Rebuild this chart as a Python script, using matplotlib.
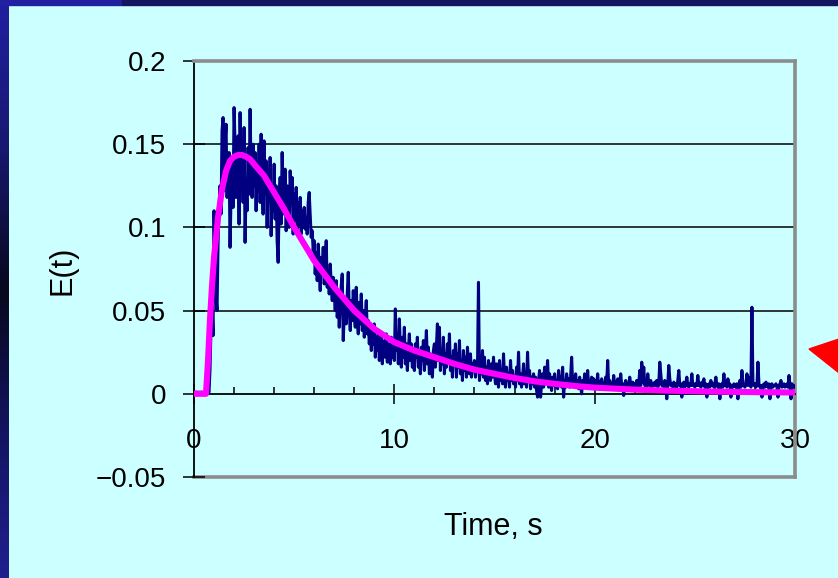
import numpy as np
import matplotlib
matplotlib.use("Agg")
import matplotlib.pyplot as plt
from matplotlib.patches import Rectangle, Polygon
from matplotlib.colors import LinearSegmentedColormap
from matplotlib.ticker import MultipleLocator

plt.rcParams["font.family"] = ["Liberation Sans", "DejaVu Sans"]

# Measured residence-time distribution E(t), sampled every 0.05 s from 0 to 30 s
sample_step = 0.05
e_measured = [
    # 0 - 1 s
    0.001, 0.000, 0.001, 0.001, 0.000, 0.001, 0.000, 0.001, 0.001, 0.000,
    0.001, 0.000, 0.001, 0.001, 0.002, 0.001, 0.015, 0.040, 0.055, 0.035,
    # 1 - 2 s
    0.110, 0.072, 0.058, 0.050, 0.090, 0.112, 0.125, 0.108, 0.158, 0.166,
    0.122, 0.150, 0.162, 0.118, 0.132, 0.145, 0.088, 0.120, 0.140, 0.112,
    # 2 - 3 s
    0.172, 0.150, 0.118, 0.140, 0.155, 0.102, 0.169, 0.130, 0.145, 0.115,
    0.160, 0.091, 0.125, 0.110, 0.148, 0.120, 0.171, 0.132, 0.118, 0.150,
    # 3 - 4 s
    0.125, 0.145, 0.110, 0.138, 0.122, 0.150, 0.115, 0.156, 0.128, 0.108,
    0.152, 0.120, 0.140, 0.100, 0.132, 0.118, 0.142, 0.095, 0.125, 0.110,
    # 4 - 5 s
    0.138, 0.105, 0.125, 0.092, 0.079, 0.115, 0.130, 0.102, 0.145, 0.120,
    0.108, 0.135, 0.098, 0.125, 0.112, 0.100, 0.134, 0.118, 0.130, 0.096,
    # 5 - 6 s
    0.120, 0.104, 0.124, 0.098, 0.115, 0.102, 0.118, 0.096, 0.110, 0.100,
    0.112, 0.099, 0.106, 0.096, 0.115, 0.121, 0.108, 0.094, 0.098, 0.086,
    # 6 - 7 s
    0.092, 0.072, 0.085, 0.068, 0.090, 0.076, 0.062, 0.082, 0.072, 0.088,
    0.066, 0.080, 0.092, 0.064, 0.074, 0.060, 0.078, 0.066, 0.056, 0.070,
    # 7 - 8 s
    0.062, 0.050, 0.068, 0.046, 0.058, 0.040, 0.055, 0.065, 0.072, 0.032,
    0.048, 0.058, 0.042, 0.060, 0.073, 0.050, 0.038, 0.056, 0.044, 0.062,
    # 8 - 9 s
    0.050, 0.040, 0.064, 0.045, 0.036, 0.055, 0.042, 0.060, 0.038, 0.050,
    0.034, 0.046, 0.056, 0.036, 0.044, 0.030, 0.040, 0.026, 0.038, 0.030,
    # 9 - 10 s
    0.042, 0.022, 0.034, 0.026, 0.038, 0.020, 0.030, 0.036, 0.018, 0.028,
    0.032, 0.022, 0.036, 0.019, 0.030, 0.024, 0.018, 0.034, 0.022, 0.028,
    # 10 - 11 s
    0.020, 0.051, 0.026, 0.036, 0.018, 0.045, 0.028, 0.016, 0.034, 0.022,
    0.040, 0.018, 0.030, 0.014, 0.026, 0.036, 0.020, 0.030, 0.016, 0.024,
    # 11 - 12 s
    0.014, 0.030, 0.022, 0.034, 0.016, 0.026, 0.012, 0.028, 0.020, 0.032,
    0.014, 0.024, 0.038, 0.018, 0.028, 0.012, 0.024, 0.016, 0.010, 0.026,
    # 12 - 13 s
    0.030, 0.016, 0.028, 0.042, 0.020, 0.040, 0.014, 0.026, 0.018, 0.034,
    0.012, 0.024, 0.016, 0.030, 0.020, 0.036, 0.014, 0.022, 0.010, 0.026,
    # 13 - 14 s
    0.018, 0.030, 0.010, 0.024, 0.016, 0.032, 0.012, 0.020, 0.008, 0.026,
    0.014, 0.022, 0.010, 0.028, 0.016, 0.012, 0.024, 0.010, 0.018, 0.014,
    # 14 - 15 s
    0.020, 0.010, 0.016, 0.014, 0.067, 0.008, 0.018, 0.012, 0.026, 0.010,
    0.022, 0.008, 0.016, 0.006, 0.020, 0.012, 0.008, 0.018, 0.010, 0.022,
    # 15 - 16 s
    0.012, 0.006, 0.018, 0.010, 0.004, 0.020, 0.008, 0.014, 0.006, 0.024,
    0.010, 0.004, 0.016, 0.008, 0.012, 0.004, 0.020, 0.008, 0.014, 0.006,
    # 16 - 17 s
    0.010, 0.004, 0.016, 0.008, 0.025, 0.006, 0.012, 0.004, 0.010, 0.018,
    0.006, 0.012, 0.004, 0.025, 0.008, 0.014, 0.003, 0.010, 0.006, 0.012,
    # 17 - 18 s
    0.004, 0.010, 0.002, -0.002, 0.008, 0.014, -0.002, 0.006, 0.012, 0.004,
    0.016, 0.006, 0.010, 0.020, 0.004, 0.012, 0.006, 0.002, 0.010, 0.005,
    # 18 - 19 s
    0.012, 0.004, 0.008, 0.003, 0.014, 0.006, 0.010, 0.004, 0.016, -0.002,
    0.008, 0.004, 0.012, 0.006, 0.009, 0.004, 0.010, 0.022, 0.006, 0.010,
    # 19 - 20 s
    0.005, 0.012, 0.004, 0.008, 0.003, 0.010, 0.005, 0.000, 0.008, 0.004,
    0.012, 0.006, 0.004, 0.014, 0.005, 0.008, 0.004, 0.010, 0.005, 0.009,
    # 20 - 21 s
    0.006, 0.008, 0.005, 0.012, 0.004, 0.007, 0.005, 0.009, 0.005, 0.006,
    0.004, 0.010, 0.006, 0.020, 0.005, 0.008, 0.005, 0.006, 0.004, 0.011,
    # 21 - 22 s
    0.005, 0.007, 0.004, 0.009, 0.006, 0.005, 0.012, 0.005, 0.006, -0.001,
    0.005, 0.008, 0.004, 0.006, 0.005, 0.010, 0.006, 0.004, 0.007, 0.005,
    # 22 - 23 s
    0.006, 0.005, 0.008, 0.004, 0.006, 0.014, 0.005, 0.019, 0.007, 0.016,
    0.005, 0.006, 0.004, 0.012, 0.006, 0.005, 0.008, 0.004, 0.006, 0.005,
    # 23 - 24 s
    0.007, 0.005, 0.008, 0.004, 0.006, 0.019, 0.012, 0.005, 0.006, 0.004,
    0.008, 0.005, -0.003, 0.006, 0.017, 0.009, 0.005, 0.006, 0.004, 0.007,
    # 24 - 25 s
    0.005, 0.006, 0.004, 0.008, 0.014, 0.005, 0.006, -0.002, 0.005, 0.007,
    0.004, 0.006, 0.010, 0.005, 0.004, 0.006, 0.005, 0.012, 0.005, 0.006,
    # 25 - 26 s
    0.004, 0.006, 0.005, 0.011, 0.005, 0.006, 0.004, 0.007, 0.005, 0.009,
    0.004, 0.006, -0.002, 0.005, 0.006, 0.004, 0.008, 0.005, 0.006, 0.004,
    # 26 - 27 s
    0.006, 0.010, 0.005, 0.004, 0.006, -0.003, 0.005, 0.006, 0.004, 0.012,
    0.005, 0.006, 0.004, 0.009, 0.005, 0.006, -0.002, 0.005, 0.004, 0.006,
    # 27 - 28 s
    0.005, 0.004, 0.006, -0.003, 0.005, 0.008, 0.004, 0.014, 0.006, 0.005,
    0.004, 0.006, 0.012, 0.005, 0.010, 0.006, 0.004, 0.052, 0.006, 0.005,
    # 28 - 29 s
    0.006, 0.004, 0.005, 0.019, 0.006, 0.004, 0.005, -0.002, 0.005, 0.006,
    0.004, 0.007, 0.005, 0.004, 0.006, -0.003, 0.005, 0.006, 0.004, 0.005,
    # 29 - 30 s
    0.005, 0.006, 0.004, -0.002, 0.005, 0.006, 0.008, 0.004, 0.005, 0.006,
    0.004, 0.005, 0.006, 0.004, 0.011, 0.005, -0.003, 0.006, 0.004, 0.005,
    0.004,
]
t_measured = np.arange(len(e_measured)) * sample_step

# Model curve fitted to the measurement
t_fit = [0, 0.6, 0.7, 0.8, 0.9, 1.0, 1.2, 1.4, 1.6, 1.8, 2.0, 2.2, 2.4, 2.6,
         2.8, 3.0, 3.5, 4.0, 4.5, 5.0, 5.5, 6.0, 7.0, 8.0, 9.0, 10.0, 11.0,
         12.0, 13.0, 14.0, 15.0, 16.0, 17.0, 18.0, 19.0, 20.0, 22.0, 24.0,
         26.0, 28.0, 30.0]
e_fit = [0, 0, 0.020, 0.045, 0.065, 0.082, 0.106, 0.123, 0.134, 0.140,
         0.1425, 0.1435, 0.1435, 0.1425, 0.141, 0.138, 0.131, 0.121, 0.111,
         0.100, 0.090, 0.080, 0.064, 0.050, 0.039, 0.031, 0.026, 0.022,
         0.018, 0.0145, 0.012, 0.0095, 0.0075, 0.006, 0.0047, 0.0037,
         0.0025, 0.0018, 0.0013, 0.0010, 0.0008]

x_ticks = [0, 10, 20, 30]
y_ticks = [-0.05, 0, 0.05, 0.1, 0.15, 0.2]
y_tick_labels = ["\u22120.05", "0", "0.05", "0.1", "0.15", "0.2"]

BG = "#CCFFFF"
W, H = 838, 578
fig = plt.figure(figsize=(W / 100, H / 100), dpi=100, facecolor=BG)

# Slide frame: gradient strip on the left, dark band along the top
strip = fig.add_axes([0, 0, 8 / W, 1])
cmap = LinearSegmentedColormap.from_list(
    "strip", ["#2020A0", "#181870", "#08081E", "#141462", "#20208E"])
strip.imshow(np.linspace(0, 1, 200)[:, None], aspect="auto", cmap=cmap,
             extent=[0, 1, 0, 1], origin="upper")
strip.set_axis_off()
fig.patches.append(Rectangle((0, 1 - 5 / H), 122 / W, 5 / H,
                             transform=fig.transFigure, color="#2020A0"))
fig.patches.append(Rectangle((122 / W, 1 - 5 / H), 1, 5 / H,
                             transform=fig.transFigure, color="#141460"))

ax = fig.add_axes([194 / W, 101 / H, 601 / W, 416 / H])
ax.set_facecolor(BG)
ax.set_xlim(0, 30)
ax.set_ylim(-0.05, 0.2)

for g in [0.05, 0.1, 0.15]:
    ax.axhline(g, color="black", lw=1.1, zorder=1)
ax.axhline(-0.05, color="#8C8C8C", lw=2.6, zorder=1, clip_on=False)

for side in ["top", "right"]:
    ax.spines[side].set_color("#8C8C8C")
    ax.spines[side].set_linewidth(2.6)
ax.spines["left"].set_color("black")
ax.spines["left"].set_linewidth(1.3)
ax.spines["bottom"].set_position(("data", 0))
ax.spines["bottom"].set_color("black")
ax.spines["bottom"].set_linewidth(1.3)

ax.plot(t_measured, e_measured, color="#000080", lw=2.2, zorder=3)
ax.plot(t_fit, e_fit, color="#FF00FF", lw=4.4, zorder=4,
        solid_joinstyle="round", solid_capstyle="butt")

ax.set_xticks(x_ticks)
ax.set_xticklabels([str(v) for v in x_ticks])
ax.xaxis.set_minor_locator(MultipleLocator(2))
ax.set_yticks(y_ticks)
ax.set_yticklabels(y_tick_labels)
ax.tick_params(axis="x", which="major", direction="inout", length=15,
               width=1.1, pad=17, labelsize=20)
ax.tick_params(axis="x", which="minor", direction="in", length=5, width=1.1)
ax.tick_params(axis="y", which="major", direction="inout", length=16,
               width=1.1, pad=12, labelsize=20)

fig.text(62 / W, 1 - 270 / H, "E(t)", rotation=90, ha="center",
         va="center", fontsize=22)
fig.text(493 / W, 1 - 527 / H, "Time, s", ha="center", va="center",
         fontsize=22)

# Pointer arrow at the right edge of the slide
fig.patches.append(Polygon([(809 / W, 1 - 349 / H), (848 / W, 1 - 336 / H),
                            (848 / W, 1 - 380 / H)], closed=True,
                           transform=fig.transFigure, color="#FF0000"))

fig.savefig("out.png", dpi=100, facecolor=BG)
